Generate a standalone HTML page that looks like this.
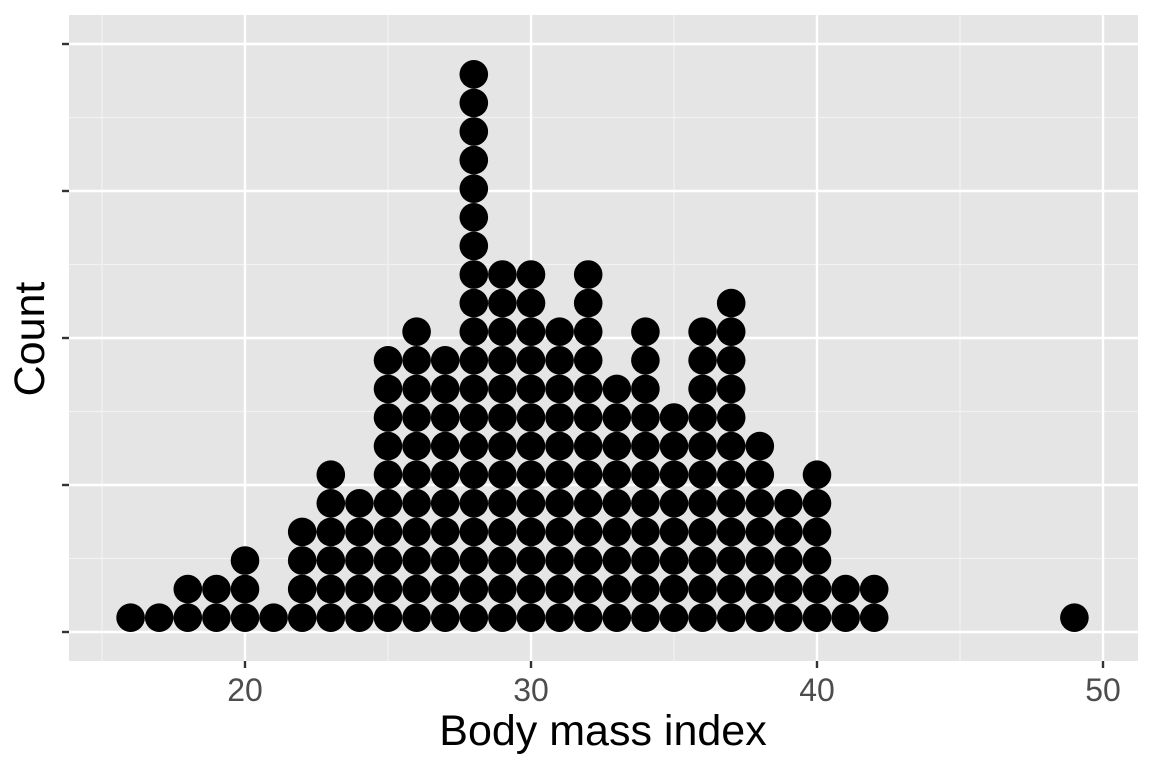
<!DOCTYPE html>
<html><head><meta charset="utf-8"><style>
body{margin:0;background:#fff;}
svg text{font-family:"Liberation Sans",sans-serif;}
</style></head><body>
<svg id="chart" width="1152" height="768" xmlns="http://www.w3.org/2000/svg">
<rect x="69" y="15" width="1069" height="646" fill="#e5e5e5"/>
<g id="grid"></g>
<g id="dots"></g>
<g id="axes"></g>
<text x="603" y="745" font-size="43" text-anchor="middle" fill="#000">Body mass index</text>
<text transform="translate(44,339) rotate(-90)" font-size="43" text-anchor="middle" fill="#000">Count</text>
</svg>
<script>
const bins = [16,17,18,19,20,21,22,23,24,25,26,27,28,29,30,31,32,33,34,35,36,37,38,39,40,41,42,49];
const counts = [1,1,2,2,3,1,4,6,5,10,11,10,20,13,13,11,13,9,11,8,11,12,7,5,6,2,2,1];
const xTicks = [20,30,40,50];
const xMinor = [15,25,35,45];
const yTicks = [0,0.25,0.5,0.75,1];
const yMinor = [0.125,0.375,0.625,0.875];
const NS="http://www.w3.org/2000/svg";
const xs = v => 245 + (v-20)*28.6;
const ys = v => 632 - v*588;
const r = 14.3;
const grid=document.getElementById('grid'), dots=document.getElementById('dots'), axes=document.getElementById('axes');
function mk(tag,attrs,parent){const e=document.createElementNS(NS,tag);for(const k in attrs)e.setAttribute(k,attrs[k]);parent.appendChild(e);return e;}
xMinor.forEach(v=>{const e=mk('line',{x1:xs(v),x2:xs(v),y1:15,y2:661,stroke:'#f2f2f2','stroke-width':1.2},grid);

});
yMinor.forEach(v=>{const e=mk('line',{x1:69,x2:1138,y1:ys(v),y2:ys(v),stroke:'#f2f2f2','stroke-width':1.2},grid);

});
xTicks.forEach(v=>{const e=mk('line',{x1:xs(v),x2:xs(v),y1:15,y2:661,stroke:'#fff','stroke-width':2.4},grid);


const t=mk('line',{x1:xs(v),x2:xs(v),y1:661,y2:668,stroke:'#333','stroke-width':2.4},axes);


const l=mk('text',{x:xs(v),y:701,'font-size':32,'text-anchor':'middle',fill:'#4d4d4d'},axes);l.textContent=v;

});
yTicks.forEach(v=>{const e=mk('line',{x1:69,x2:1138,y1:ys(v),y2:ys(v),stroke:'#fff','stroke-width':2.4},grid);


const t=mk('line',{x1:62,x2:69,y1:ys(v),y2:ys(v),stroke:'#333','stroke-width':2.4},axes);

});
bins.forEach((b,i)=>{for(let k=0;k<counts[i];k++){const c=mk('circle',{cx:xs(b),cy:632-r-k*2*r,r:r,fill:'#000'},dots);

}});
</script>
</body></html>
